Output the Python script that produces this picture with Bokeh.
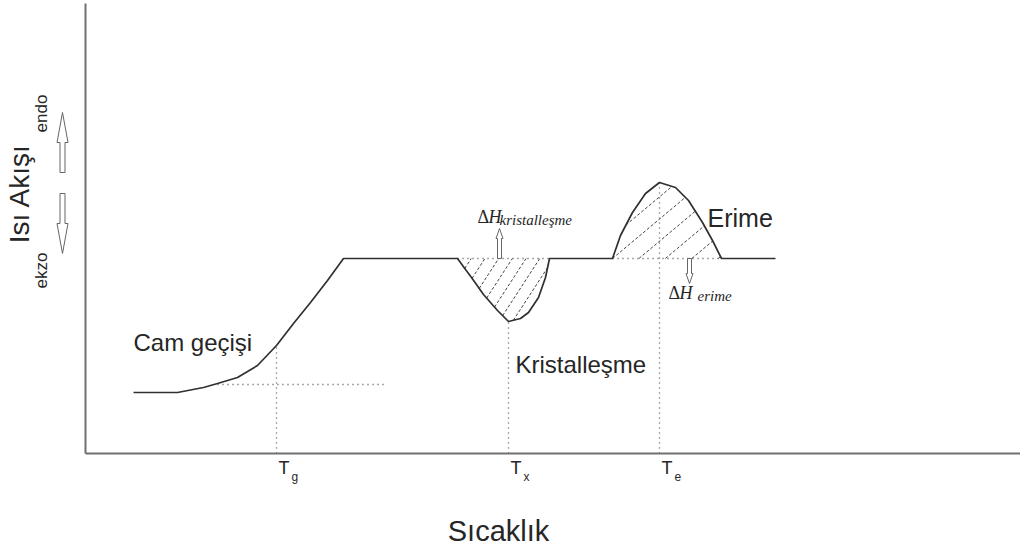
import numpy as np
from bokeh.plotting import figure
from bokeh.models import Range1d, Label, FixedTicker, LinearAxis
from bokeh.embed import file_html
from bokeh.resources import INLINE

# ---- data (arbitrary units) ----
curve_x = [48, 92, 118, 132, 152, 172, 191, 208, 225, 242, 258,
           372, 380, 386, 398, 412, 423, 435, 443, 453, 460, 464,
           527, 535, 547, 560, 574, 590, 603, 617, 627, 636, 690]
curve_y = [61, 61, 66, 70, 76, 88, 108, 130, 151, 173, 195,
           195, 184, 176, 159, 143, 132, 135, 141, 156, 176, 195,
           195, 218, 241, 260, 271, 266, 253, 231, 213, 195, 195]

baseline = 195
cryst_range = [372, 464]       # crystallisation dip limits
melt_range = [527, 636]        # melting peak limits
tg_tangent_x = [132, 298]      # extrapolated glass baseline
tg_tangent_y = 69

tick_pos = [191, 423, 574]     # Tg, Tx, Te
tick_sub = ["g", "x", "e"]

# ---- figure (frame fills the whole canvas; axes placed at 0) ----
p = figure(width=1020, height=548, x_range=Range1d(-85, 935), y_range=Range1d(-95, 453),
           output_backend="svg", toolbar_location=None,
           x_axis_location=None, y_axis_location=None, min_border=0)
p.xgrid.visible = False
p.ygrid.visible = False
p.outline_line_color = None

for loc, bnds in (("below", (0, 935)), ("left", (0, 450))):
    ax = LinearAxis(fixed_location=0, bounds=bnds, ticker=FixedTicker(ticks=[]),
                    major_label_text_font_size="0px", major_tick_line_color=None,
                    minor_tick_line_color=None, major_tick_in=0, major_tick_out=0,
                    minor_tick_in=0, minor_tick_out=0, major_label_standoff=0,
                    axis_line_color="#707070", axis_line_width=2)
    p.add_layout(ax, loc)

TXT = "#262626"
SANS = "Liberation Sans"
SERIF = "Liberation Serif"
SHIFT = 8   # label baseline correction

cx = np.array(curve_x, dtype=float)
cy = np.array(curve_y, dtype=float)


def region(lo, hi):
    m = (cx >= lo) & (cx <= hi)
    return cx[m], cy[m]


def hatch(px, py, angle_deg, spacing):
    a = np.radians(angle_deg)
    d = np.array([np.cos(a), np.sin(a)])
    n = np.array([-np.sin(a), np.cos(a)])
    pts = np.column_stack([px, py])
    proj = pts @ n
    x0, y0, x1, y1 = [], [], [], []
    cs = np.arange(proj[0] - spacing * 40, proj.max(), spacing)
    cs = cs[cs > proj.min()]
    for c in cs:
        ts = []
        for i in range(len(pts)):
            P, Q = pts[i], pts[(i + 1) % len(pts)]
            fp, fq = P @ n - c, Q @ n - c
            if (fp < 0) != (fq < 0):
                t = fp / (fp - fq)
                ts.append((P + t * (Q - P)) @ d)
        ts.sort()
        for k in range(0, len(ts) - 1, 2):
            r0 = c * n + ts[k] * d
            r1 = c * n + ts[k + 1] * d
            x0.append(r0[0]); y0.append(r0[1]); x1.append(r1[0]); y1.append(r1[1])
    return x0, y0, x1, y1


# hatching
dx, dy = region(*cryst_range)
h = hatch(dx, dy, 57, 11.5)
p.segment(h[0], h[1], h[2], h[3], line_color="#444444", line_width=1, line_dash="3 2")
mx, my = region(*melt_range)
h = hatch(mx, my, 40, 17)
p.segment(h[0], h[1], h[2], h[3], line_color="#444444", line_width=1, line_dash="3 2")

# dotted helper lines
DOT = dict(line_color="#555555", line_width=1.3, line_dash="1 4")
p.line(tg_tangent_x, [tg_tangent_y] * 2, **DOT)
p.line(cryst_range, [baseline] * 2, **DOT)
p.line(melt_range, [baseline] * 2, **DOT)
for t in tick_pos:
    p.line([t, t], [0, float(np.interp(t, cx, cy))], **DOT)

# main curve
p.line(curve_x, curve_y, line_color="#303030", line_width=1.7)


def arrow_poly(x, yb, yt, sw, hw, hl):
    s = 1 if yt > yb else -1
    yh = yt - s * hl
    xs = [x - sw / 2, x - sw / 2, x - hw / 2, x, x + hw / 2, x + sw / 2, x + sw / 2]
    ys = [yb, yh, yh, yt, yh, yh, yb]
    return xs, ys


# Delta H arrows inside the plot
for (ax_, yb, yt) in [(414, baseline, 225), (604, baseline, 170)]:
    xs, ys = arrow_poly(ax_, yb, yt, 4, 7, 10)
    p.patch(xs, ys, fill_color="white", line_color="#666666", line_width=1)

# endo / ekzo arrows beside y axis
for (yb, yt) in [(281, 341), (260, 200)]:
    xs, ys = arrow_poly(-23, yb, yt, 5, 11, 30)
    p.patch(xs, ys, fill_color="white", line_color="#666666", line_width=1)


def lab(x, y, text, size, font=SANS, align="left", style="normal", angle=0, color=TXT):
    if angle:
        x = x - SHIFT
    else:
        y = y + SHIFT
    p.add_layout(Label(x=x, y=y, text=text, text_font=font, text_font_size=f"{size}px",
                       text_font_style=style, text_align=align, text_baseline="alphabetic",
                       text_color=color, angle=angle))


# annotations
lab(48, 103, "Cam geçişi", 24)
lab(430, 81, "Kristalleşme", 24)
lab(622, 228, "Erime", 25)

lab(392, 229, "Δ", 18, font=SERIF)
lab(403, 229, "H", 18, font=SERIF, style="italic")
lab(414, 226, "kristalleşme", 15, font=SERIF, style="italic")
lab(583, 153, "Δ", 18, font=SERIF)
lab(594, 153, "H", 18, font=SERIF, style="italic")
lab(612, 150, "erime", 15, font=SERIF, style="italic")

# tick labels T_g, T_x, T_e
for t, s in zip(tick_pos, tick_sub):
    lab(t + 2, -22, "T", 18)
    lab(t + 15, -31, s, 12)

# axis titles
lab(413, -85, "Sıcaklık", 29, align="center")
lab(-58, 260, "Isı Akışı", 28, align="center", angle=np.pi / 2)
lab(-36, 340, "endo", 17, align="center", angle=np.pi / 2)
lab(-36, 183, "ekzo", 17, align="center", angle=np.pi / 2)

open("out.html", "w").write(file_html(p, INLINE))
